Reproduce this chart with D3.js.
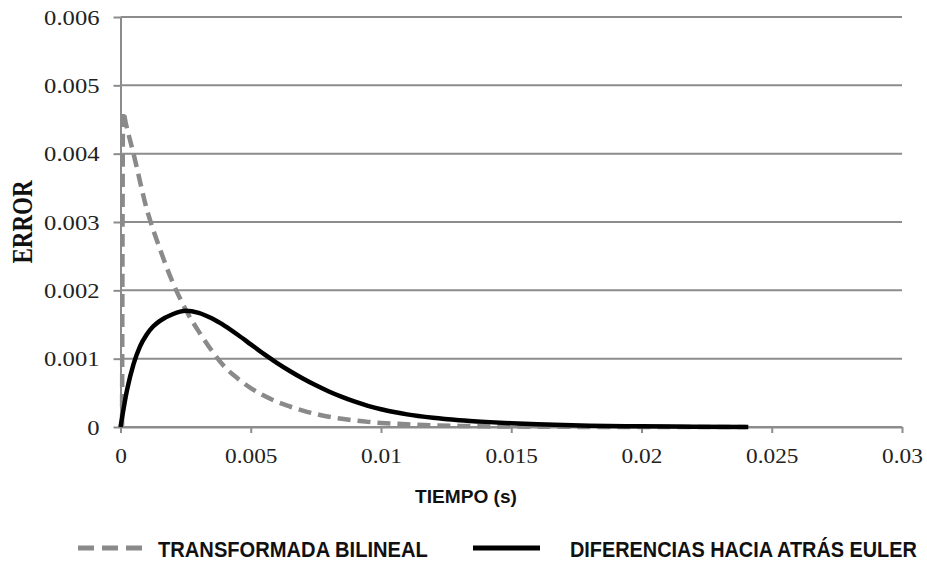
<!DOCTYPE html>
<html>
<head>
<meta charset="utf-8">
<script src="https://cdn.jsdelivr.net/npm/d3@7"></script>
<style>
  html, body { margin: 0; padding: 0; background: #fff; }
  svg { display: block; }
</style>
</head>
<body>
<svg id="chart" width="927" height="563"></svg>
<script>
// Error over time for two discretisation methods
const xTickValues = [0, 0.005, 0.01, 0.015, 0.02, 0.025, 0.03];
const xTickLabels = ["0", "0.005", "0.01", "0.015", "0.02", "0.025", "0.03"];
const yTickValues = [0, 0.001, 0.002, 0.003, 0.004, 0.005, 0.006];
const yTickLabels = ["0", "0.001", "0.002", "0.003", "0.004", "0.005", "0.006"];

const seriesNames = ["TRANSFORMADA BILINEAL", "DIFERENCIAS HACIA ATRÁS EULER"];

// Bilinear transform error (time in s, error)
const bilinealT = [0.00006, 0.0001, 0.0002, 0.0005, 0.001, 0.0015, 0.002, 0.0025, 0.003, 0.0035,
  0.004, 0.0045, 0.005, 0.0055, 0.006, 0.0065, 0.007, 0.0075, 0.008, 0.0085, 0.009, 0.0095,
  0.010, 0.011, 0.012, 0.013, 0.014, 0.016, 0.020, 0.024];
const bilinealE = [0, 0.00462, 0.00445, 0.0040, 0.0032, 0.00262, 0.00212, 0.00172, 0.0014, 0.00112,
  0.00088, 0.00071, 0.00057, 0.00046, 0.00037, 0.0003, 0.00024, 0.00019, 0.00015, 0.00012, 0.000095,
  0.000075, 0.00006, 0.00004, 0.000025, 0.000016, 0.00001, 0.000004, 0, 0];

// Backward Euler error (time in s, error)
const eulerT = [0, 0.00025, 0.0005, 0.00075, 0.001, 0.00125, 0.0015, 0.002, 0.0025, 0.003, 0.0035,
  0.004, 0.0045, 0.005, 0.0055, 0.006, 0.0065, 0.007, 0.0075, 0.008, 0.0085, 0.009, 0.0095, 0.010,
  0.0105, 0.011, 0.012, 0.013, 0.014, 0.015, 0.016, 0.018, 0.020, 0.022, 0.0241];
const eulerE = [0, 0.00054, 0.00092, 0.00118, 0.00135, 0.00147, 0.00155, 0.00165, 0.0017, 0.00167,
  0.00159, 0.00148, 0.00135, 0.00121, 0.00107, 0.00094, 0.00082, 0.00071, 0.00061, 0.00052, 0.00044,
  0.00037, 0.00031, 0.00026, 0.00022, 0.000185, 0.000135, 0.0001, 0.000075, 0.000055, 0.00004,
  0.00002, 0.00001, 0.000004, 0];

const svg = d3.select("#chart");
const plotLeft = 120.5, plotRight = 902, plotTop = 17, plotBottom = 427;
const gridColor = "#8c8c8c";
const serif = "'Liberation Serif', 'Times New Roman', serif";
const sans = "'Liberation Sans', Arial, sans-serif";

const x = d3.scaleLinear().domain([0, 0.03]).range([plotLeft, plotRight]);
const y = d3.scaleLinear().domain([0, 0.006]).range([plotBottom, plotTop]);

// horizontal gridlines
svg.append("g")
  .selectAll("line")
  .data(yTickValues)
  .join("line")
  .attr("x1", plotLeft).attr("x2", plotRight)
  .attr("y1", d => y(d)).attr("y2", d => y(d))
  .attr("stroke", gridColor).attr("stroke-width", 2);

// y axis
const yAxis = svg.append("g")
  .attr("transform", `translate(${plotLeft},0)`)
  .call(d3.axisLeft(y).tickValues(yTickValues)
    .tickFormat((d, i) => yTickLabels[i])
    .tickSize(7).tickSizeOuter(0).tickPadding(14));
yAxis.select(".domain").attr("stroke", gridColor).attr("stroke-width", 2);
yAxis.selectAll(".tick line").attr("stroke", gridColor).attr("stroke-width", 2);
yAxis.selectAll(".tick text")
  .attr("font-family", serif).attr("font-size", 22).attr("fill", "#222");

// x axis
const xAxis = svg.append("g")
  .attr("transform", `translate(0,${plotBottom})`)
  .call(d3.axisBottom(x).tickValues(xTickValues)
    .tickFormat((d, i) => xTickLabels[i])
    .tickSize(6).tickSizeOuter(0).tickPadding(14));
xAxis.select(".domain").attr("stroke", gridColor).attr("stroke-width", 2);
xAxis.selectAll(".tick line").attr("stroke", gridColor).attr("stroke-width", 2);
xAxis.selectAll(".tick text")
  .attr("font-family", serif).attr("font-size", 22).attr("fill", "#222");

// widen the serif tick labels slightly around their anchor
function widen(sel, factor) {
  sel.each(function () {
    const t = d3.select(this);
    const tx = +t.attr("x") || 0;
    const ty = +t.attr("y") || 0;
    t.attr("transform", `translate(${tx},${ty}) scale(${factor},1) translate(${-tx},${-ty})`);
  });
}
widen(yAxis.selectAll(".tick text"), 1.12);
widen(xAxis.selectAll(".tick text"), 1.06);

// series lines
const line = d3.line()
  .x(d => x(d[0]))
  .y(d => y(d[1]))
  .curve(d3.curveMonotoneX);

const bilinealData = bilinealT.map((t, i) => [t, bilinealE[i]]);
const eulerData = eulerT.map((t, i) => [t, eulerE[i]]);

svg.append("path")
  .datum(bilinealData)
  .attr("d", line)
  .attr("fill", "none")
  .attr("stroke", "#8a8a8a")
  .attr("stroke-width", 4.5)
  .attr("stroke-dasharray", "13,7");

svg.append("path")
  .datum(eulerData)
  .attr("d", line)
  .attr("fill", "none")
  .attr("stroke", "#000")
  .attr("stroke-width", 4.5)
  .attr("stroke-linejoin", "round");

// axis titles
svg.append("text")
  .attr("transform", "translate(32,222) rotate(-90) scale(1,1.25)")
  .attr("text-anchor", "middle")
  .attr("font-family", serif)
  .attr("font-weight", "bold")
  .attr("font-size", 23)
  .attr("fill", "#111")
  .text("ERROR");

// text fitted to a given width by horizontal scaling
function fittedText(parent, str, x0, y0, width, size, anchor) {
  const t = parent.append("text")
    .attr("font-family", sans)
    .attr("font-weight", "bold")
    .attr("font-size", size)
    .attr("fill", "#111")
    .attr("text-anchor", anchor)
    .text(str);
  const natural = t.node().getComputedTextLength();
  t.attr("transform", `translate(${x0},${y0}) scale(${width / natural},1)`);
  return t;
}

fittedText(svg, "TIEMPO (s)", 466, 503, 102, 18.5, "middle");

// legend
const legend = svg.append("g");
legend.append("line")
  .attr("x1", 78).attr("x2", 142).attr("y1", 548).attr("y2", 548)
  .attr("stroke", "#8a8a8a").attr("stroke-width", 5)
  .attr("stroke-dasharray", "16,8");
fittedText(legend, seriesNames[0], 158, 556.5, 270, 22, "start");
legend.append("line")
  .attr("x1", 473).attr("x2", 540).attr("y1", 548).attr("y2", 548)
  .attr("stroke", "#000").attr("stroke-width", 5);
fittedText(legend, seriesNames[1], 570, 556.5, 347, 22, "start");
</script>
</body>
</html>
